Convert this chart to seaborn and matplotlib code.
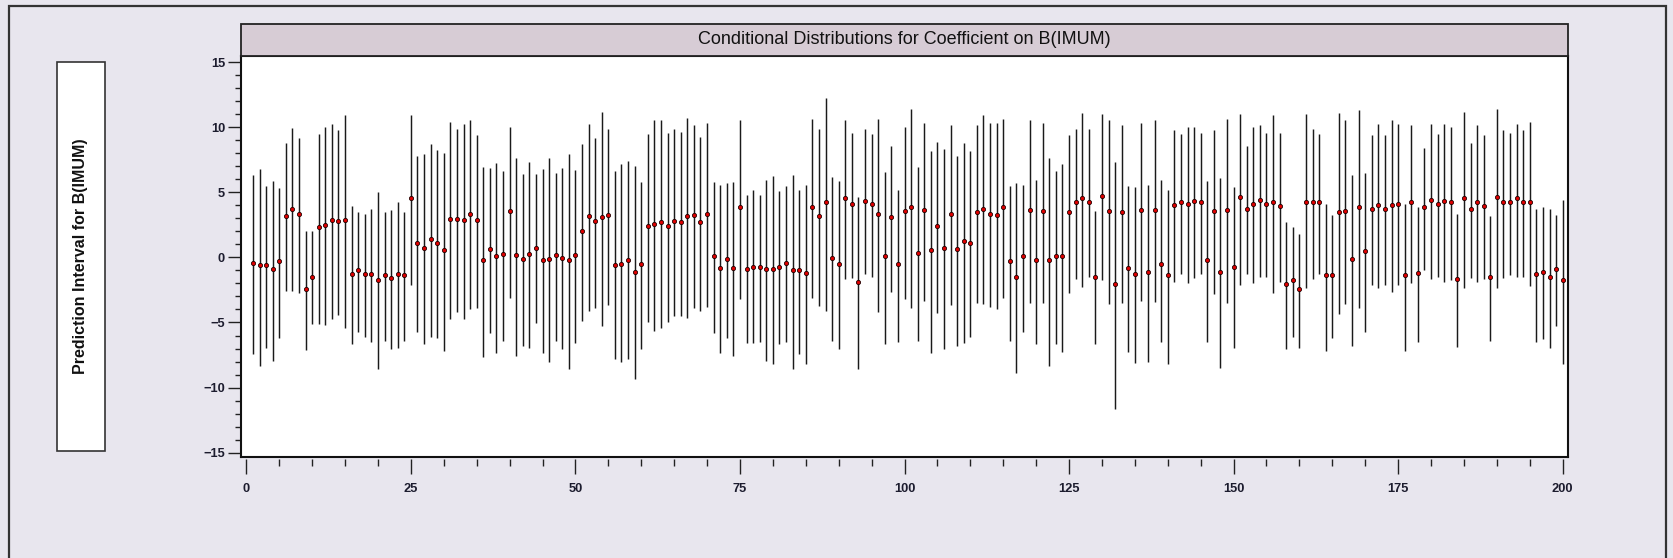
import matplotlib
matplotlib.use("Agg")
import numpy as np
import pandas as pd
import matplotlib.pyplot as plt
import seaborn as sns
from matplotlib.patches import Rectangle
from matplotlib.ticker import MultipleLocator

title_text = "Conditional Distributions for Coefficient on B(IMUM)"
ylabel_text = "Prediction Interval for B(IMUM)"

obs = list(range(1, 201))

mid = [
    -0.41, -0.61, -0.61, -0.90, -0.31, 3.18, 3.74, 3.36, -2.46, -1.49,
    2.30, 2.51, 2.89, 2.79, 2.89, -1.28, -1.00, -1.28, -1.28, -1.77,
    -1.38, -1.56, -1.28, -1.38, 4.53, 1.13, 0.74, 1.43, 1.13, 0.56,
    2.97, 2.97, 2.87, 3.36, 2.87, -0.23, 0.64, 0.08, 0.26, 3.56,
    0.18, -0.13, 0.26, 0.74, -0.23, -0.13, 0.18, -0.03, -0.23, 0.18,
    2.00, 3.18, 2.79, 3.07, 3.28, -0.61, -0.51, -0.23, -1.10, -0.51,
    2.41, 2.59, 2.69, 2.41, 2.79, 2.69, 3.18, 3.28, 2.69, 3.36,
    0.08, -0.79, -0.13, -0.79, 3.84, -0.90, -0.72, -0.72, -0.90, -0.90,
    -0.72, -0.41, -1.00, -1.00, -1.18, 3.84, 3.18, 4.23, -0.03, -0.51,
    4.53, 4.12, -1.87, 4.33, 4.12, 3.36, 0.08, 3.07, -0.51, 3.56,
    3.84, 0.36, 3.66, 0.56, 2.41, 0.74, 3.36, 0.64, 1.23, 1.13,
    3.46, 3.74, 3.36, 3.28, 3.84, -0.31, -1.49, 0.08, 3.66, -0.23,
    3.56, -0.23, 0.08, 0.08, 3.46, 4.22, 4.53, 4.22, -1.49, 4.71,
    3.56, -2.07, 3.46, -0.79, -1.28, 3.66, -1.10, 3.66, -0.51, -1.38,
    4.04, 4.22, 4.12, 4.33, 4.22, -0.23, 3.56, -1.10, 3.66, -0.72,
    4.61, 3.74, 4.12, 4.43, 4.12, 4.22, 3.94, -2.07, -1.77, -2.46,
    4.22, 4.22, 4.22, -1.38, -1.38, 3.46, 3.56, -0.13, 3.84, 0.46,
    3.74, 4.04, 3.74, 4.04, 4.12, -1.38, 4.22, -1.18, 3.84, 4.43,
    4.12, 4.33, 4.22, -1.69, 4.53, 3.74, 4.22, 3.94, -1.49, 4.61,
    4.22, 4.22, 4.53, 4.22, 4.22, -1.28, -1.10, -1.49, -0.90, -1.77,
]

upper = [
    6.35, 6.80, 5.48, 5.86, 5.30, 8.78, 9.94, 9.17, 1.99, 1.99,
    9.45, 10.04, 10.22, 9.76, 10.91, 3.94, 3.46, 3.36, 3.74, 4.99,
    3.46, 3.66, 4.22, 3.46, 10.91, 7.81, 7.91, 8.68, 8.22, 8.01,
    10.42, 9.83, 10.22, 10.53, 9.37, 6.94, 6.86, 7.25, 6.66, 10.04,
    7.63, 6.38, 7.33, 6.38, 6.76, 7.63, 6.48, 6.86, 7.91, 6.71,
    8.68, 10.22, 9.17, 11.19, 9.83, 6.66, 7.15, 7.43, 7.05, 5.78,
    9.45, 10.53, 10.53, 9.55, 9.83, 9.66, 10.70, 10.14, 9.27, 10.32,
    5.78, 5.58, 5.68, 5.78, 10.53, 4.81, 5.20, 4.81, 5.96, 6.27,
    5.10, 5.50, 6.35, 5.20, 5.58, 10.60, 9.83, 12.27, 6.17, 5.88,
    10.53, 9.55, 4.63, 9.83, 9.45, 10.60, 6.56, 8.58, 5.20, 10.04,
    11.37, 6.94, 10.32, 8.19, 8.89, 8.30, 10.14, 7.81, 8.78, 8.19,
    10.14, 10.91, 10.32, 10.32, 10.60, 5.48, 5.68, 5.58, 10.53, 5.96,
    10.32, 7.63, 6.66, 7.15, 9.37, 9.83, 11.09, 9.83, 3.56, 11.01,
    10.53, 7.33, 10.14, 5.48, 5.40, 10.32, 5.58, 10.53, 5.96, 5.20,
    9.76, 9.45, 10.04, 10.04, 9.55, 5.88, 9.76, 6.07, 10.60, 5.40,
    11.01, 8.58, 10.04, 10.14, 9.55, 10.91, 9.55, 2.69, 2.30, 1.82,
    11.01, 9.83, 9.45, 4.12, 3.28, 11.09, 10.53, 6.35, 11.29, 6.45,
    9.37, 10.22, 9.37, 10.53, 10.22, 4.12, 10.14, 3.84, 8.40, 10.22,
    9.45, 10.22, 10.04, 3.36, 11.19, 8.78, 10.14, 9.37, 3.18, 11.37,
    9.76, 9.55, 10.22, 9.76, 10.42, 3.74, 3.84, 3.74, 3.28, 4.43,
]

lower = [
    -7.40, -8.33, -6.95, -7.94, -6.20, -2.61, -2.61, -2.71, -7.09, -5.13,
    -5.13, -5.23, -4.74, -4.45, -5.40, -6.69, -5.73, -6.12, -6.50, -8.60,
    -6.40, -7.07, -6.97, -6.40, -2.15, -5.73, -6.68, -6.12, -6.20, -7.17,
    -4.76, -4.20, -4.76, -3.99, -3.89, -7.66, -5.81, -7.35, -6.40, -3.15,
    -7.55, -6.78, -6.97, -5.04, -7.35, -8.04, -6.40, -7.07, -8.58, -6.56,
    -4.87, -4.10, -3.89, -5.25, -3.64, -7.84, -8.04, -7.84, -9.37, -7.07,
    -4.97, -5.63, -5.43, -4.97, -4.48, -4.48, -4.66, -3.89, -4.10, -3.82,
    -5.81, -7.35, -6.20, -7.56, -3.23, -6.61, -6.61, -6.50, -7.94, -8.22,
    -6.68, -6.50, -8.60, -7.45, -8.22, -3.13, -3.71, -4.10, -6.40, -7.07,
    -1.69, -1.59, -8.60, -1.31, -1.51, -4.23, -6.69, -2.66, -6.50, -3.23,
    -3.89, -6.40, -3.33, -7.35, -4.28, -7.07, -3.64, -6.78, -6.58, -6.12,
    -3.51, -3.61, -3.82, -4.00, -3.13, -6.40, -8.88, -5.73, -3.51, -6.69,
    -3.51, -8.32, -6.69, -7.28, -2.74, -1.69, -2.26, -1.51, -6.69, -1.77,
    -3.61, -11.63, -3.51, -7.28, -8.12, -3.33, -8.04, -3.41, -6.50, -8.22,
    -1.87, -1.31, -1.97, -1.59, -1.31, -6.50, -2.84, -8.50, -3.51, -6.97,
    -2.10, -1.31, -1.97, -1.51, -1.51, -2.74, -1.87, -7.07, -6.12, -6.97,
    -2.38, -1.69, -1.31, -7.18, -6.20, -4.38, -3.61, -6.78, -3.89, -5.73,
    -2.15, -2.36, -2.15, -2.64, -2.15, -7.18, -1.97, -6.50, -1.00, -1.69,
    -1.49, -1.87, -1.77, -6.91, -2.36, -1.59, -1.87, -1.69, -6.40, -2.36,
    -1.59, -1.38, -1.49, -1.49, -2.23, -6.50, -6.30, -6.97, -5.25, -8.22,
]

xticks = [0, 25, 50, 75, 100, 125, 150, 175, 200]
yticks = [-15, -10, -5, 0, 5, 10, 15]

df = pd.DataFrame({"obs": obs, "mid": mid, "lower": lower, "upper": upper})

sns.set_theme(style="white")
plt.rcParams['font.family'] = ['Liberation Sans', 'DejaVu Sans']

BG = '#E8E6EE'
TXT = '#1c1c2e'

fig = plt.figure(figsize=(16.73, 5.58), dpi=100)
fig.patch.set_facecolor(BG)

ax = fig.add_axes([0.1441, 0.1817, 0.7931, 0.7188])
ax.set_facecolor('white')
ax.vlines(df["obs"], df["lower"], df["upper"], color='#1a1a1a', lw=1.05, zorder=2)
sns.scatterplot(data=df, x='obs', y='mid', ax=ax, color='#E00000',
                edgecolor='#200000', s=9, linewidth=0.6, zorder=3, legend=False)
ax.set_xlim(-0.8, 200.8)
ax.set_ylim(-15.3, 15.5)
ax.set_xlabel('')
ax.set_ylabel('')

for sp in ax.spines.values():
    sp.set_visible(True)
    sp.set_color('#111111')
    sp.set_linewidth(1.5)

# y axis
ax.set_yticks(yticks)
ax.yaxis.set_minor_locator(MultipleLocator(1))
ax.tick_params(axis='y', which='major', direction='out', length=9.5, width=1.0,
               color='#222222', labelsize=9.3, labelcolor=TXT, pad=2, left=True)
ax.tick_params(axis='y', which='minor', direction='out', length=4.5, width=1.0,
               color='#222222', left=True)
for lbl in ax.get_yticklabels():
    lbl.set_fontweight('bold')

# x axis (offset slightly below the frame)
ax.set_xticks([])
sec = ax.secondary_xaxis(-0.006)
sec.set_xticks(xticks)
sec.xaxis.set_minor_locator(MultipleLocator(5))
sec.spines['bottom'].set_visible(False)
sec.tick_params(axis='x', which='major', direction='out', length=11, width=1.0,
                color='#222222', labelsize=9.3, labelcolor=TXT, pad=6)
sec.tick_params(axis='x', which='minor', direction='out', length=5, width=1.0,
                color='#222222')
for lbl in sec.get_xticklabels():
    lbl.set_fontweight('bold')

# title band
fig.add_artist(Rectangle((0.1441, 0.9005), 0.7931, 0.0573, transform=fig.transFigure,
                         facecolor='#D7CCD5', edgecolor='#222222', lw=1.3, zorder=1))
fig.text(0.5407, 0.9292, title_text, ha='center', va='center', fontsize=13,
         color='#111111')

# left label box
fig.add_artist(Rectangle((0.0338, 0.1918), 0.0287, 0.6971, transform=fig.transFigure,
                         facecolor='white', edgecolor='#333333', lw=1.2))
fig.text(0.0481, 0.5403, ylabel_text, rotation=90, ha='center', va='center',
         fontsize=11.5, fontweight='bold', color='#111111')

# outer frame
fig.add_artist(Rectangle((8.5 / 1673, -0.05), (1666 - 8.5) / 1673, 1.0385,
                         transform=fig.transFigure, facecolor='none',
                         edgecolor='#333333', lw=1.6))

fig.savefig('out.png', dpi=100, facecolor=BG)
